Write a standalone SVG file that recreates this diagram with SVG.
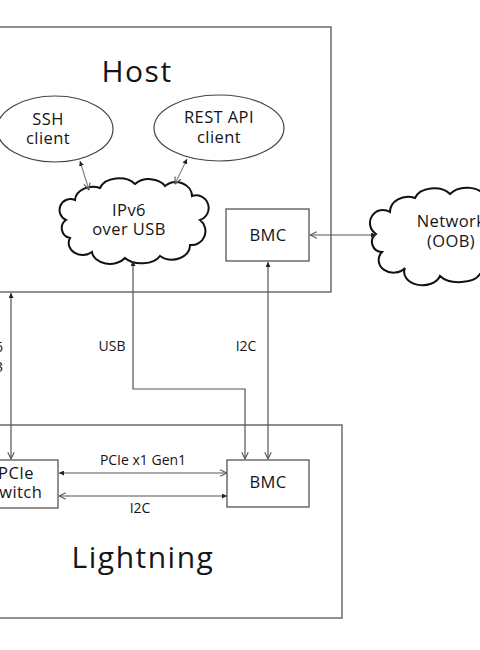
<svg xmlns="http://www.w3.org/2000/svg" width="480" height="650" viewBox="0 0 480 650">
<style>
text{font-family:"Open Sans","DejaVu Sans",sans-serif;fill:#151515}
.t{font-size:30px;letter-spacing:1.5px;text-anchor:middle}
.m{font-size:16.5px;text-anchor:middle;letter-spacing:0.4px}
.s{font-size:14px;text-anchor:middle}
.box{fill:#fff;stroke:#555;stroke-width:1.3}
.ell{fill:#fff;stroke:#444;stroke-width:1.2}
.cloud{fill:#fff;stroke:#111;stroke-width:2}
.c{fill:none;stroke:#555;stroke-width:1.2;marker-start:url(#f);marker-end:url(#o)}
.r{fill:none;stroke:#555;stroke-width:1.2;marker-start:url(#o);marker-end:url(#f)}
.g{stroke:#888}
</style>
<defs>
<marker id="f" viewBox="0 0 6 6" refX="6" refY="3" markerWidth="5" markerHeight="5" markerUnits="userSpaceOnUse" orient="auto-start-reverse"><path d="M0,0 L6,3 L0,6 z" fill="#222"/></marker>
<marker id="o" viewBox="0 0 10 10" refX="9.5" refY="5" markerWidth="8" markerHeight="8" markerUnits="userSpaceOnUse" orient="auto-start-reverse"><path d="M1,1 L9.5,5 L1,9" fill="none" stroke="#555" stroke-width="1.4"/></marker>
</defs>
<rect width="480" height="650" fill="#fff"/>
<g id="host">
<rect class="box" x="-5" y="27" width="336" height="265"/>
<text class="t" x="137" y="82">Host</text>
</g>
<g id="lightning">
<rect class="box" x="-5" y="425" width="347" height="193"/>
<text class="t" x="143" y="568">Lightning</text>
</g>
<g id="ssh">
<ellipse class="ell" cx="55" cy="129" rx="58" ry="33"/>
<text class="m" x="48" y="125">SSH</text>
<text class="m" x="48" y="144">client</text>
</g>
<g id="rest">
<ellipse class="ell" cx="219" cy="128" rx="65" ry="33"/>
<text class="m" x="219" y="123">REST API</text>
<text class="m" x="219" y="143">client</text>
</g>
<g id="ipv6">
<path class="cloud" d="M75,200 A18,14 0 0 1 100,188 A20,14 0 0 1 135,184 A18,13 0 0 1 165,186 A16,14 0 0 1 192,196 A12,12 0 0 1 200,220 A14,14 0 0 1 190,245 A18,14 0 0 1 160,256 A20,12 0 0 1 125,258 A18,13 0 0 1 92,252 A14,12 0 0 1 70,238 A10,10 0 0 1 66,220 A10,10 0 0 1 75,200 Z"/>
<text class="m" x="129" y="216">IPv6</text>
<text class="m" x="129" y="235">over USB</text>
</g>
<g id="hostbmc">
<rect class="box" x="226" y="209" width="83" height="52"/>
<text class="m" x="268" y="241">BMC</text>
</g>
<g id="network">
<path class="cloud" d="M390,212 A18,15 0 0 1 415,198 A20,14 0 0 1 450,194 A20,14 0 0 1 485,196 A18,15 0 0 1 515,208 A12,14 0 0 1 525,235 A15,14 0 0 1 512,262 A20,13 0 0 1 480,274 A22,12 0 0 1 440,276 A18,13 0 0 1 405,268 A14,12 0 0 1 382,252 A10,10 0 0 1 376,234 A12,12 0 0 1 390,212 Z"/>
<text class="m" x="451" y="227">Network</text>
<text class="m" x="451" y="247">(OOB)</text>
</g>
<g id="lbmc">
<rect class="box" x="227" y="460" width="82" height="47"/>
<text class="m" x="268" y="488">BMC</text>
</g>
<g id="pcieswitch">
<rect class="box" x="-5" y="460" width="63" height="48"/>
<text class="m" x="16" y="479">PCIe</text>
<text class="m" x="16" y="498">Switch</text>
</g>
<g id="connectors">
<line class="c g" x1="80" y1="161" x2="89" y2="190"/>
<line class="c g" x1="187" y1="159" x2="175" y2="184"/>
<path class="c" d="M133,261 V389 H245 V459"/>
<path class="c" d="M268,262 V459"/>
<path class="c" d="M11,293 V459"/>
<path class="r" d="M310,235 H376"/>
<path class="c" d="M59,473 H227"/>
<path class="r" d="M59,496 H227"/>
</g>
<g id="labels">
<text class="s" x="112" y="351">USB</text>
<text class="s" x="246" y="351">I2C</text>
<text class="s" x="143" y="465">PCIe x1 Gen1</text>
<text class="s" x="140" y="513">I2C</text>
<text class="s" x="3" y="352" style="text-anchor:end">x16</text>
<text class="s" x="3" y="372" style="text-anchor:end">Gen3</text>
</g>
</svg>
